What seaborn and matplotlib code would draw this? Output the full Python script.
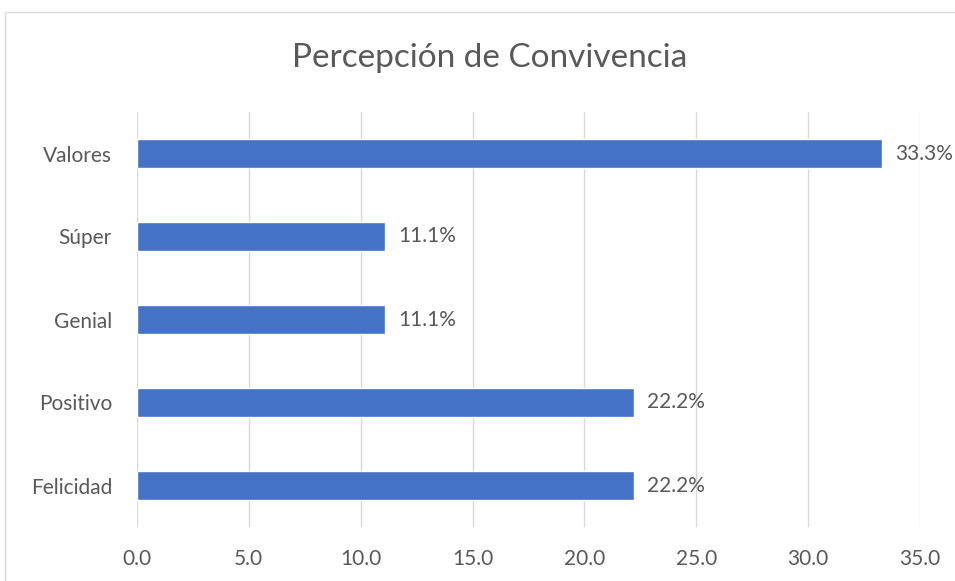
import pandas as pd
import seaborn as sns
import matplotlib.pyplot as plt
from matplotlib.patches import Rectangle

# datos del gráfico (de arriba hacia abajo)
categorias = ["Valores", "Súper", "Genial", "Positivo", "Felicidad"]
porcentajes = [33.3, 11.1, 11.1, 22.2, 22.2]
ticks_x = [0, 5, 10, 15, 20, 25, 30, 35]

df = pd.DataFrame({"categoria": categorias, "porcentaje": porcentajes})

sns.set_style("white")
plt.rcParams["font.family"] = ["Lato", "DejaVu Sans"]
gris = "#595959"

fig = plt.figure(figsize=(9.55, 5.81), dpi=100)
ax = fig.add_axes([137 / 955, 54 / 581, 783 / 955, 415 / 581])

# marco del gráfico (recortado a la derecha y abajo)
fig.patches.append(Rectangle((5 / 955, -0.1), 1.2, 1.1 - 12 / 581,
                             transform=fig.transFigure, fill=False,
                             edgecolor="#D9D9D9", linewidth=1))

sns.barplot(data=df, x="porcentaje", y="categoria", orient="h",
            color="#4472C4", width=0.36, saturation=1, ax=ax, zorder=3)

ax.set_xlim(0, 35)
ax.set_ylim(4.5, -0.5)
ax.set_xticks(ticks_x)
ax.set_xticklabels([f"{t:.1f}" for t in ticks_x], fontsize=15, color=gris)
ax.tick_params(axis="y", labelsize=15, labelcolor=gris, length=0, pad=18)
ax.tick_params(axis="x", length=0, pad=16)
ax.xaxis.grid(True, color="#D9D9D9", linewidth=1, zorder=0)
ax.set_axisbelow(True)
for s in ax.spines.values():
    s.set_visible(False)
ax.set_xlabel("")
ax.set_ylabel("")

# etiquetas de valor
for i, v in enumerate(porcentajes):
    ax.text(v + 0.6, i, f"{v:.1f}%", va="center", ha="left",
            fontsize=15, color=gris, clip_on=False)

fig.text(490 / 955, 1 - 58 / 581, "Percepción de Convivencia", ha="center",
         va="center", fontsize=24, color=gris)

fig.savefig("out.png", dpi=100)
